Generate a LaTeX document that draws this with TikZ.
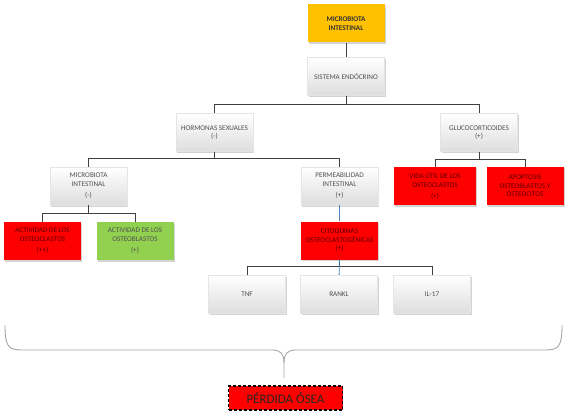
\documentclass[tikz,border=0pt]{standalone}
\usepackage{fontspec}
\setmainfont{Carlito}
\usetikzlibrary{shadows}
\definecolor{box-gold}{HTML}{FFC000}
\definecolor{box-red}{HTML}{FF0000}
\definecolor{box-green}{HTML}{92D050}
\definecolor{box-text}{HTML}{4F4F4F}
\definecolor{red-text}{HTML}{5C0000}
\definecolor{edge}{HTML}{3F3F3F}
\definecolor{edge-hi}{HTML}{4F81BD}
\definecolor{brace-gray}{HTML}{A6A6A6}
\tikzset{
  cbox/.style={
    rectangle, minimum width=77pt, minimum height=38pt, inner sep=1pt,
    align=center, font=\fontsize{7.2}{8.6}\selectfont,
    drop shadow={shadow xshift=1.2pt, shadow yshift=-1.5pt, opacity=0.35}
  },
  wbox/.style={cbox, draw=black!10, top color=white, bottom color=black!13, text=box-text},
  rbox/.style={cbox, fill=box-red, text=red-text},
  gbox/.style={cbox, fill=box-green, text=box-text},
  topbox/.style={cbox, fill=box-gold, text=black!80, font=\fontsize{7.2}{8.6}\selectfont\bfseries},
  lossbox/.style={
    rectangle, draw=black, fill=box-red, line width=1.2pt, dash pattern=on 3pt off 2pt,
    minimum width=114pt, minimum height=24pt, inner sep=1pt,
    font=\fontsize{13}{15}\selectfont, text=black!85
  },
  tedge/.style={draw=edge, line width=0.9pt},
  tedge-hi/.style={draw=edge-hi, line width=0.9pt},
  brace-line/.style={draw=brace-gray, line width=0.9pt}
}

\begin{document}
\begin{tikzpicture}[x=1pt, y=-1pt]
  \useasboundingbox (0,0) rectangle (567,414);

  % ---- Nodes ---------------------------------------------------------------
  \node[topbox] (mtop)  at (346, 23.5) {MICROBIOTA\\INTESTINAL};
  \node[wbox]   (endo)  at (346, 76.5) {SISTEMA ENDÓCRINO};
  \node[wbox]   (horm)  at (214.5, 132.5) {HORMONAS SEXUALES\\(-)};
  \node[wbox]   (gluc)  at (479, 132.5) {GLUCOCORTICOIDES\\(+)};
  \node[wbox]   (micro) at (88.5, 186) {MICROBIOTA\\INTESTINAL\\[2.5pt](-)};
  \node[wbox]   (perm)  at (339.5, 186) {PERMEABILIDAD\\INTESTINAL\\[2.5pt](+)};
  \node[rbox, minimum width=82pt] (vida) at (435, 186) {VIDA ÚTIL DE LOS\\OSTEOCLASTOS\\[2.5pt](+)};
  \node[rbox]   (apop)  at (525, 186) {APOPTOSIS\\OSTEOBLASTOS Y\\OSTEOCITOS};
  \node[rbox]   (oclast) at (42.5, 241) {ACTIVIDAD DE LOS\\OSTEOCLASTOS\\[2.5pt](++)};
  \node[gbox]   (oblast) at (135, 241) {ACTIVIDAD DE LOS\\OSTEOBLASTOS\\[2.5pt](+)};
  \node[rbox]   (cito)  at (339.5, 240.5) {CITOQUINAS\\OSTEOCLASTOGÉNICAS\\(+)};
  \node[wbox]   (tnf)   at (247, 294) {TNF};
  \node[wbox]   (rankl) at (339, 294) {RANKL};
  \node[wbox]   (il17)  at (432, 294) {IL-17};

  % ---- Edges (blue line along the permeability branch) ---------------------
  \draw[tedge] (mtop) -- (endo);
  \draw[tedge] (endo.south) -- ++(0,9) -| (horm.north);
  \draw[tedge] (endo.south) -- ++(0,9) -| (gluc.north);
  \draw[tedge] (horm.south) -- ++(0,7) -| (micro.north);
  \draw[tedge] (horm.south) -- ++(0,7) -| (perm.north);
  \draw[tedge] (micro.south) -- ++(0,8) -| (oclast.north);
  \draw[tedge] (micro.south) -- ++(0,8) -| (oblast.north);
  \draw[tedge] (gluc.south) -- ++(0,8) -| (vida.north);
  \draw[tedge] (gluc.south) -- ++(0,8) -| (apop.north);
  \draw[tedge] (cito.south) -- ++(0,7) -| (tnf.north);
  \draw[tedge] (cito.south) -- ++(0,7) -| (il17.north);
  \draw[tedge-hi] (perm) -- (cito);
  \draw[tedge-hi] (cito) -- (rankl);

  % ---- Brace and outcome ---------------------------------------------------
  \coordinate (brace-l) at (5, 325);
  \coordinate (brace-r) at (562, 325);
  \coordinate (brace-tip) at (284, 378);
  \draw[brace-line]
    (brace-l) .. controls (5, 346) and (8, 350) .. (22, 350)
    -- (272, 350) .. controls (281, 350) and (284, 354) .. (284, 363)
    -- (brace-tip);
  \draw[brace-line]
    (brace-r) .. controls (562, 346) and (559, 350) .. (545, 350)
    -- (296, 350) .. controls (287, 350) and (284, 354) .. (284, 363);
  \node[lossbox] (loss) at (285.5, 398) {PÉRDIDA ÓSEA};

\end{tikzpicture}
\end{document}
